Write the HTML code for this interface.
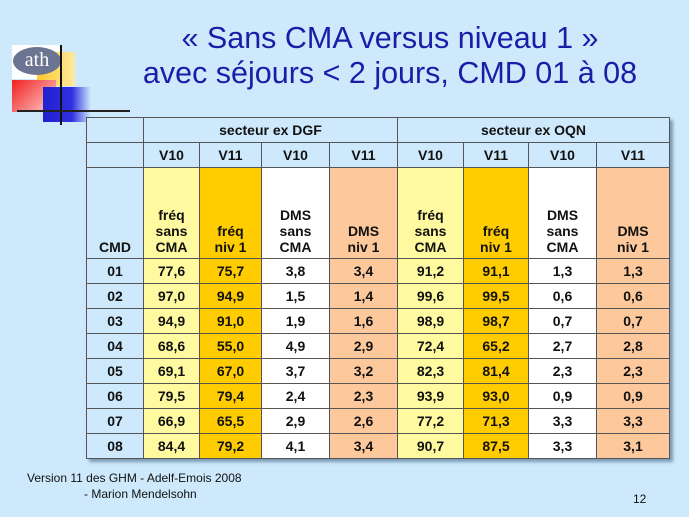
<!DOCTYPE html>
<html><head><meta charset="utf-8"><style>
body{margin:0;width:689px;height:517px;background:#cde9fb;font-family:"Liberation Sans",sans-serif;position:relative;overflow:hidden}
.t{position:absolute;left:100px;width:580px;text-align:center;color:#1c1ca8;font-size:30.5px;line-height:34px}
table{position:absolute;left:86px;top:117px;border-collapse:collapse;box-shadow:3px 3px 3px #7a9ab5;font-weight:bold;font-size:14px;color:#111}
td{border:1px solid #555;text-align:center;padding:0;background:#cde9fb}
.a{background:#fffaa0}.b{background:#ffcc00}.c{background:#fff}.d{background:#fdc89c}
.h1 td{height:24px}.h3 td{height:87px;vertical-align:bottom;padding-bottom:3px;line-height:16px}
.r td{height:24px}
.f{position:absolute;font-size:12px;color:#111}
</style></head><body>
<div style="position:absolute;left:0;top:0;width:140px;height:130px">
<div style="position:absolute;left:12px;top:45px;width:48px;height:34px;background:#fff"></div>
<div style="position:absolute;left:37px;top:52px;width:38px;height:34px;background:linear-gradient(90deg,#ffc928,#ffe8a0)"></div>
<div style="position:absolute;left:12px;top:80px;width:44px;height:32px;background:linear-gradient(135deg,#f02020,#ffd0d0)"></div>
<div style="position:absolute;left:43px;top:87px;width:48px;height:35px;background:linear-gradient(90deg,#2020d0,#3030e0 60%,#cde9fb)"></div>
<div style="position:absolute;left:13px;top:47px;width:48px;height:28px;border-radius:50%;background:#6b7490;color:#fff;font:20px 'Liberation Serif',serif;text-align:center;line-height:26px">ath</div>
<div style="position:absolute;left:60px;top:45px;width:2px;height:80px;background:#111"></div>
<div style="position:absolute;left:17px;top:110px;width:113px;height:2px;background:#222"></div>
</div>
<div class="t" style="top:21px">« Sans CMA versus niveau 1 »</div>
<div class="t" style="top:56px">avec séjours &lt; 2 jours, CMD 01 à 08</div>
<table>
<colgroup><col style="width:57px"><col style="width:56px"><col style="width:62px"><col style="width:68px"><col style="width:68px"><col style="width:66px"><col style="width:65px"><col style="width:68px"><col style="width:73px"></colgroup>
<tr class="h1"><td></td><td colspan="4">secteur ex DGF</td><td colspan="4">secteur ex OQN</td></tr>
<tr class="h1"><td></td><td>V10</td><td>V11</td><td>V10</td><td>V11</td><td>V10</td><td>V11</td><td>V10</td><td>V11</td></tr>
<tr class="h3"><td>CMD</td><td class="a">fréq<br>sans<br>CMA</td><td class="b">fréq<br>niv 1</td><td class="c">DMS<br>sans<br>CMA</td><td class="d">DMS<br>niv 1</td><td class="a">fréq<br>sans<br>CMA</td><td class="b">fréq<br>niv 1</td><td class="c">DMS<br>sans<br>CMA</td><td class="d">DMS<br>niv 1</td></tr>
<tr class="r"><td>01</td><td class="a">77,6</td><td class="b">75,7</td><td class="c">3,8</td><td class="d">3,4</td><td class="a">91,2</td><td class="b">91,1</td><td class="c">1,3</td><td class="d">1,3</td></tr>
<tr class="r"><td>02</td><td class="a">97,0</td><td class="b">94,9</td><td class="c">1,5</td><td class="d">1,4</td><td class="a">99,6</td><td class="b">99,5</td><td class="c">0,6</td><td class="d">0,6</td></tr>
<tr class="r"><td>03</td><td class="a">94,9</td><td class="b">91,0</td><td class="c">1,9</td><td class="d">1,6</td><td class="a">98,9</td><td class="b">98,7</td><td class="c">0,7</td><td class="d">0,7</td></tr>
<tr class="r"><td>04</td><td class="a">68,6</td><td class="b">55,0</td><td class="c">4,9</td><td class="d">2,9</td><td class="a">72,4</td><td class="b">65,2</td><td class="c">2,7</td><td class="d">2,8</td></tr>
<tr class="r"><td>05</td><td class="a">69,1</td><td class="b">67,0</td><td class="c">3,7</td><td class="d">3,2</td><td class="a">82,3</td><td class="b">81,4</td><td class="c">2,3</td><td class="d">2,3</td></tr>
<tr class="r"><td>06</td><td class="a">79,5</td><td class="b">79,4</td><td class="c">2,4</td><td class="d">2,3</td><td class="a">93,9</td><td class="b">93,0</td><td class="c">0,9</td><td class="d">0,9</td></tr>
<tr class="r"><td>07</td><td class="a">66,9</td><td class="b">65,5</td><td class="c">2,9</td><td class="d">2,6</td><td class="a">77,2</td><td class="b">71,3</td><td class="c">3,3</td><td class="d">3,3</td></tr>
<tr class="r"><td>08</td><td class="a">84,4</td><td class="b">79,2</td><td class="c">4,1</td><td class="d">3,4</td><td class="a">90,7</td><td class="b">87,5</td><td class="c">3,3</td><td class="d">3,1</td></tr>
</table>
<div class="f" style="left:27px;top:471px">Version 11 des GHM - Adelf-Emois 2008</div>
<div class="f" style="left:84px;top:487px">- Marion Mendelsohn</div>
<div class="f" style="left:633px;top:492px">12</div>
</body></html>
